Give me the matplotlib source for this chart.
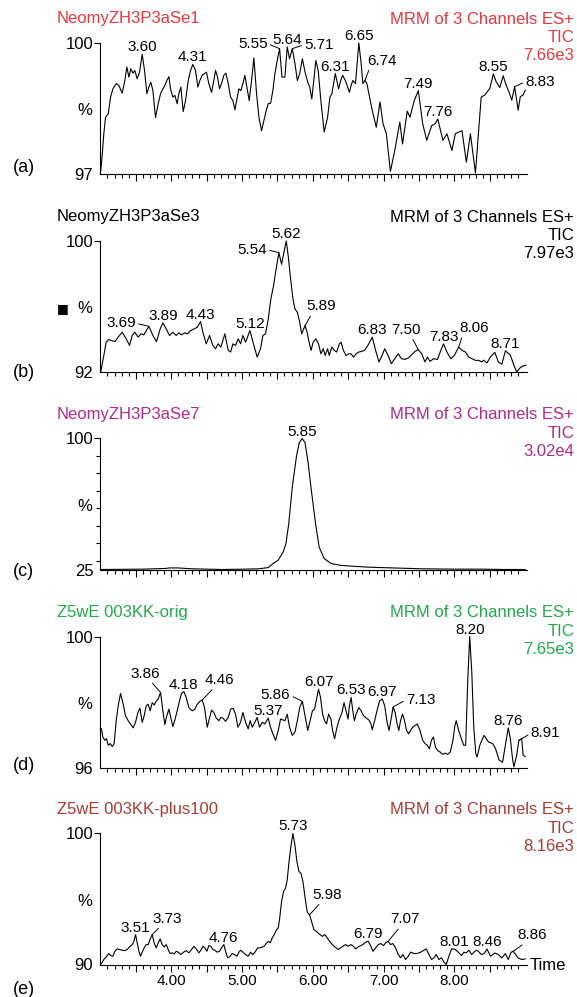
import numpy as np
import matplotlib.pyplot as plt
from matplotlib.ticker import FixedLocator, MultipleLocator, FuncFormatter

plt.rcParams['font.family'] = ['Liberation Sans', 'DejaVu Sans']

# ---- traces: (time min, intensity %) ----
a_trace = [
    (3.000, 97.00), (3.016, 97.23), (3.049, 97.92), (3.073, 98.30), (3.111, 98.38),
    (3.144, 98.76), (3.177, 98.95), (3.224, 99.07), (3.261, 99.03), (3.308, 98.85),
    (3.346, 99.14), (3.374, 99.45), (3.403, 99.22), (3.431, 99.41), (3.459, 99.31),
    (3.487, 99.37), (3.520, 99.18), (3.553, 99.33), (3.591, 99.74), (3.624, 99.37),
    (3.657, 98.84), (3.685, 98.99), (3.713, 99.10), (3.742, 98.91), (3.779, 98.29),
    (3.817, 98.61), (3.850, 98.84), (3.883, 98.95), (3.911, 99.03), (3.939, 99.14),
    (3.968, 99.23), (3.991, 98.95), (4.024, 98.76), (4.052, 98.80), (4.085, 98.61),
    (4.109, 98.84), (4.137, 98.99), (4.170, 98.43), (4.203, 98.68), (4.241, 99.14),
    (4.274, 99.37), (4.306, 99.51), (4.344, 99.37), (4.377, 98.99), (4.405, 99.14),
    (4.438, 99.26), (4.471, 99.30), (4.499, 99.33), (4.532, 99.07), (4.570, 98.87),
    (4.598, 99.10), (4.627, 99.37), (4.655, 99.22), (4.683, 98.95), (4.716, 99.10),
    (4.744, 99.26), (4.773, 99.31), (4.806, 99.07), (4.839, 98.76), (4.872, 98.68),
    (4.900, 98.47), (4.933, 98.76), (4.956, 98.95), (4.984, 98.91), (5.013, 99.07),
    (5.041, 99.26), (5.069, 98.99), (5.102, 98.68), (5.135, 99.14), (5.168, 99.66),
    (5.206, 98.84), (5.239, 98.30), (5.276, 97.99), (5.309, 98.22), (5.342, 98.45),
    (5.371, 98.61), (5.404, 98.62), (5.436, 98.91), (5.465, 99.30), (5.498, 99.60),
    (5.531, 99.87), (5.565, 99.22), (5.606, 99.22), (5.639, 99.91), (5.672, 99.64),
    (5.710, 99.87), (5.748, 99.53), (5.782, 99.14), (5.815, 99.30), (5.853, 99.64),
    (5.891, 99.33), (5.929, 99.10), (5.957, 98.99), (5.986, 98.72), (6.014, 99.14),
    (6.043, 99.60), (6.076, 99.37), (6.114, 98.68), (6.161, 97.96), (6.209, 98.30),
    (6.242, 98.76), (6.270, 98.84), (6.318, 99.30), (6.365, 98.95), (6.394, 99.14),
    (6.422, 99.26), (6.460, 99.14), (6.493, 98.99), (6.517, 98.87), (6.541, 99.03),
    (6.565, 99.14), (6.603, 99.07), (6.650, 100.0), (6.683, 99.53), (6.707, 99.07),
    (6.736, 99.14), (6.764, 99.07), (6.792, 98.84), (6.840, 98.45), (6.897, 98.07),
    (6.949, 98.65), (6.992, 98.15), (7.039, 97.92), (7.096, 97.06), (7.158, 97.54),
    (7.229, 98.19), (7.267, 97.69), (7.334, 98.44), (7.372, 98.30), (7.433, 98.68),
    (7.490, 98.91), (7.552, 98.15), (7.609, 97.77), (7.680, 98.11), (7.728, 98.15),
    (7.765, 98.26), (7.837, 97.77), (7.894, 97.92), (7.965, 97.54), (8.012, 97.92),
    (8.060, 97.96), (8.107, 97.99), (8.169, 97.27), (8.226, 97.92), (8.297, 97.02),
    (8.378, 98.76), (8.430, 98.81), (8.500, 98.96), (8.550, 99.29), (8.590, 99.11),
    (8.640, 98.98), (8.690, 99.25), (8.720, 99.08), (8.770, 98.88), (8.810, 98.69),
    (8.850, 99.00), (8.900, 98.46), (8.930, 98.77), (8.970, 98.81), (9.000, 98.92),
]

b_trace = [
    (3.005, 92.00), (3.049, 93.01), (3.082, 93.82), (3.120, 93.98), (3.158, 93.92),
    (3.205, 93.86), (3.252, 94.13), (3.308, 94.43), (3.365, 94.03), (3.412, 93.62),
    (3.450, 94.23), (3.487, 94.43), (3.534, 94.13), (3.572, 94.33), (3.614, 94.27),
    (3.685, 94.79), (3.742, 94.23), (3.793, 93.86), (3.845, 94.63), (3.883, 95.00),
    (3.930, 94.63), (3.977, 94.23), (4.024, 94.43), (4.071, 94.23), (4.109, 94.39),
    (4.146, 94.27), (4.193, 94.39), (4.231, 94.33), (4.274, 94.53), (4.321, 94.63),
    (4.368, 94.73), (4.415, 95.08), (4.448, 94.43), (4.495, 93.72), (4.542, 94.23),
    (4.589, 93.62), (4.627, 93.42), (4.664, 93.72), (4.702, 93.52), (4.758, 94.33),
    (4.806, 93.32), (4.839, 93.22), (4.872, 93.72), (4.909, 93.62), (4.947, 94.03),
    (4.980, 93.72), (5.013, 94.23), (5.051, 93.82), (5.112, 94.53), (5.168, 93.62),
    (5.215, 92.91), (5.262, 93.42), (5.295, 94.23), (5.333, 94.33), (5.371, 95.24),
    (5.408, 96.46), (5.446, 97.27), (5.474, 98.08), (5.521, 99.29), (5.559, 98.58),
    (5.592, 99.29), (5.625, 100.0), (5.653, 99.09), (5.687, 97.67), (5.720, 96.46),
    (5.748, 95.85), (5.782, 95.65), (5.815, 95.04), (5.843, 94.33), (5.872, 94.63),
    (5.891, 94.84), (5.919, 94.43), (5.948, 93.82), (5.976, 93.32), (6.005, 93.82),
    (6.043, 94.03), (6.081, 93.72), (6.114, 93.11), (6.147, 93.42), (6.175, 93.01),
    (6.209, 93.42), (6.232, 93.01), (6.270, 93.52), (6.304, 93.32), (6.337, 93.22),
    (6.375, 93.72), (6.399, 93.82), (6.432, 93.32), (6.470, 93.01), (6.508, 93.11),
    (6.541, 93.11), (6.574, 92.91), (6.612, 93.11), (6.650, 93.22), (6.688, 93.26),
    (6.731, 93.32), (6.778, 93.62), (6.840, 94.13), (6.887, 93.32), (6.935, 92.61),
    (6.978, 93.01), (7.016, 93.42), (7.063, 93.01), (7.110, 92.51), (7.158, 92.81),
    (7.205, 93.11), (7.253, 92.81), (7.300, 92.77), (7.348, 92.85), (7.395, 93.05),
    (7.443, 93.26), (7.490, 93.36), (7.538, 93.11), (7.585, 92.61), (7.618, 92.91),
    (7.656, 92.65), (7.704, 92.81), (7.761, 92.77), (7.808, 93.32), (7.846, 93.72),
    (7.894, 93.22), (7.950, 92.81), (7.998, 93.01), (8.060, 93.52), (8.107, 93.32),
    (8.155, 93.22), (8.202, 92.91), (8.250, 92.81), (8.297, 92.71), (8.345, 92.71),
    (8.387, 92.61), (8.410, 92.72), (8.460, 92.56), (8.510, 92.93), (8.570, 93.20),
    (8.620, 92.62), (8.670, 92.47), (8.720, 93.30), (8.790, 93.03), (8.840, 92.41),
    (8.880, 92.00), (8.930, 92.27), (8.970, 92.37), (9.010, 92.41),
]

c_trace = [
    (3.00, 25.0), (3.60, 25.2), (3.92, 25.6), (3.98, 25.9), (4.09, 25.9),
    (4.30, 25.4), (4.72, 25.0), (5.03, 25.2), (5.24, 25.4), (5.37, 26.1),
    (5.45, 28.7), (5.51, 30.3), (5.58, 34.9), (5.62, 39.7), (5.66, 51.1),
    (5.71, 72.0), (5.77, 90.0), (5.81, 97.7), (5.85, 100.0), (5.89, 97.7),
    (5.93, 87.3), (5.98, 70.2), (6.04, 51.1), (6.09, 37.8), (6.16, 31.3),
    (6.26, 28.4), (6.39, 27.4), (6.55, 26.9), (6.81, 26.3), (7.13, 25.9),
    (7.54, 25.4), (8.02, 25.2), (8.38, 25.2), (8.70, 25.0), (9.00, 25.0),
]

d_trace = [
    (3.000, 97.18), (3.016, 97.18), (3.035, 96.93), (3.064, 96.83), (3.087, 96.88),
    (3.111, 96.68), (3.139, 96.73), (3.167, 96.64), (3.195, 96.73), (3.224, 97.43),
    (3.252, 97.88), (3.285, 98.26), (3.318, 97.98), (3.355, 97.58), (3.393, 97.43),
    (3.426, 97.33), (3.464, 97.21), (3.497, 97.38), (3.530, 97.68), (3.558, 97.81),
    (3.591, 97.38), (3.619, 97.58), (3.647, 97.88), (3.676, 97.93), (3.704, 97.73),
    (3.732, 97.98), (3.760, 97.91), (3.793, 98.04), (3.817, 98.09), (3.850, 98.29),
    (3.883, 97.73), (3.911, 97.31), (3.939, 97.58), (3.968, 97.78), (3.996, 97.51),
    (4.024, 97.25), (4.052, 97.45), (4.085, 97.73), (4.118, 98.04), (4.146, 98.26),
    (4.179, 98.32), (4.212, 98.14), (4.250, 97.83), (4.297, 97.73), (4.335, 97.78),
    (4.368, 97.93), (4.405, 98.02), (4.438, 98.06), (4.471, 97.83), (4.509, 97.23),
    (4.542, 97.51), (4.570, 97.75), (4.603, 97.68), (4.636, 97.51), (4.674, 97.43),
    (4.702, 97.53), (4.730, 97.51), (4.768, 97.41), (4.806, 97.53), (4.839, 97.78),
    (4.876, 97.81), (4.909, 97.63), (4.942, 97.23), (4.980, 97.38), (5.013, 97.68),
    (5.051, 97.38), (5.088, 97.18), (5.116, 97.43), (5.145, 97.23), (5.182, 97.38),
    (5.215, 97.53), (5.248, 97.23), (5.286, 97.38), (5.323, 97.33), (5.370, 97.51),
    (5.403, 97.23), (5.436, 97.03), (5.474, 96.83), (5.512, 97.13), (5.545, 97.48),
    (5.606, 97.43), (5.639, 97.63), (5.672, 97.23), (5.710, 96.98), (5.748, 97.08),
    (5.782, 97.43), (5.815, 97.83), (5.853, 98.02), (5.891, 97.58), (5.929, 97.13),
    (5.962, 97.43), (5.995, 97.73), (6.024, 97.78), (6.057, 98.14), (6.081, 98.39),
    (6.109, 98.14), (6.138, 97.63), (6.166, 97.43), (6.194, 97.33), (6.223, 97.63),
    (6.256, 97.48), (6.280, 97.13), (6.308, 96.88), (6.342, 97.23), (6.375, 97.48),
    (6.413, 97.68), (6.441, 97.98), (6.470, 97.73), (6.498, 97.48), (6.517, 97.88),
    (6.541, 98.14), (6.565, 97.73), (6.588, 97.43), (6.612, 97.63), (6.650, 97.83),
    (6.683, 97.73), (6.717, 97.58), (6.755, 97.51), (6.792, 97.45), (6.821, 97.33),
    (6.840, 97.15), (6.873, 97.43), (6.906, 97.73), (6.944, 98.04), (6.982, 98.09),
    (7.016, 97.88), (7.049, 97.38), (7.077, 97.13), (7.110, 97.53), (7.134, 97.85),
    (7.163, 97.68), (7.191, 97.33), (7.215, 97.13), (7.239, 97.43), (7.267, 97.63),
    (7.296, 97.43), (7.324, 97.13), (7.353, 97.03), (7.381, 97.13), (7.410, 97.23),
    (7.443, 97.28), (7.476, 97.33), (7.514, 97.13), (7.552, 96.83), (7.585, 96.73),
    (7.618, 96.68), (7.647, 96.57), (7.675, 96.83), (7.704, 96.93), (7.732, 96.62),
    (7.761, 96.52), (7.799, 96.47), (7.837, 96.40), (7.870, 96.44), (7.903, 96.40),
    (7.941, 96.47), (7.979, 96.83), (8.007, 97.28), (8.026, 97.43), (8.060, 97.13),
    (8.098, 96.88), (8.131, 96.68), (8.159, 96.68), (8.188, 98.64), (8.216, 100.0),
    (8.245, 98.93), (8.273, 97.23), (8.302, 96.42), (8.321, 96.32), (8.359, 96.68),
    (8.387, 96.83), (8.420, 96.98), (8.480, 96.78), (8.540, 96.73), (8.580, 96.58),
    (8.630, 96.23), (8.680, 96.16), (8.720, 96.68), (8.760, 97.21), (8.790, 96.88),
    (8.820, 96.28), (8.840, 96.02), (8.880, 96.38), (8.910, 96.83), (8.950, 96.88),
    (8.970, 96.38), (9.000, 96.33),
]

e_trace = [
    (3.000, 90.00), (3.016, 90.08), (3.049, 90.38), (3.082, 90.58), (3.120, 90.84),
    (3.148, 90.68), (3.177, 90.63), (3.205, 91.01), (3.238, 91.19), (3.271, 91.14),
    (3.308, 91.09), (3.346, 91.06), (3.379, 91.14), (3.412, 91.34), (3.450, 91.52),
    (3.473, 91.77), (3.497, 92.28), (3.520, 91.65), (3.544, 91.01), (3.567, 90.63),
    (3.591, 90.94), (3.619, 91.27), (3.647, 91.52), (3.676, 91.52), (3.704, 91.95),
    (3.732, 92.28), (3.760, 91.65), (3.789, 91.27), (3.817, 91.65), (3.845, 91.95),
    (3.873, 91.52), (3.902, 91.34), (3.930, 91.52), (3.958, 91.14), (3.986, 90.84),
    (4.015, 90.89), (4.043, 90.81), (4.071, 91.01), (4.099, 90.94), (4.137, 90.76),
    (4.175, 90.94), (4.212, 91.06), (4.250, 90.89), (4.288, 91.14), (4.321, 91.39),
    (4.354, 91.19), (4.391, 90.89), (4.420, 91.09), (4.448, 91.39), (4.476, 91.27),
    (4.504, 91.01), (4.532, 91.44), (4.561, 91.39), (4.589, 91.14), (4.617, 91.09),
    (4.650, 90.94), (4.683, 91.01), (4.711, 91.27), (4.744, 91.52), (4.768, 91.01),
    (4.796, 90.51), (4.824, 90.58), (4.862, 90.84), (4.895, 90.76), (4.928, 90.63),
    (4.956, 90.94), (4.984, 91.09), (5.013, 90.94), (5.051, 90.76), (5.088, 90.63),
    (5.121, 90.94), (5.154, 90.76), (5.192, 91.01), (5.220, 91.27), (5.257, 91.27),
    (5.286, 91.34), (5.314, 91.39), (5.342, 91.60), (5.371, 91.77), (5.399, 91.65),
    (5.427, 92.03), (5.455, 92.28), (5.483, 92.61), (5.512, 92.79), (5.530, 93.42),
    (5.559, 94.81), (5.587, 95.57), (5.615, 95.82), (5.639, 96.46), (5.662, 97.72),
    (5.690, 98.99), (5.719, 100.0), (5.748, 99.11), (5.776, 97.85), (5.805, 97.09),
    (5.833, 96.96), (5.861, 96.33), (5.889, 95.19), (5.922, 93.98), (5.955, 93.80),
    (5.983, 93.29), (6.016, 92.66), (6.049, 92.53), (6.087, 92.35), (6.134, 92.15),
    (6.171, 92.28), (6.204, 92.03), (6.237, 91.77), (6.275, 91.52), (6.312, 91.34),
    (6.359, 91.14), (6.392, 91.27), (6.425, 91.39), (6.463, 91.52), (6.500, 91.39),
    (6.538, 91.52), (6.576, 91.39), (6.604, 91.19), (6.641, 91.34), (6.675, 91.44),
    (6.708, 91.52), (6.745, 91.70), (6.783, 91.77), (6.816, 91.44), (6.849, 91.01),
    (6.887, 91.27), (6.924, 91.52), (6.962, 91.60), (6.999, 91.44), (7.028, 91.65),
    (7.065, 91.77), (7.098, 91.52), (7.131, 91.60), (7.169, 91.27), (7.207, 90.76),
    (7.240, 90.51), (7.273, 90.76), (7.310, 90.38), (7.348, 90.63), (7.381, 90.94),
    (7.428, 90.84), (7.475, 90.84), (7.522, 90.94), (7.569, 91.09), (7.602, 91.19),
    (7.640, 90.76), (7.678, 90.38), (7.711, 90.51), (7.744, 90.76), (7.781, 90.38),
    (7.819, 90.51), (7.852, 90.18), (7.885, 90.00), (7.922, 90.63), (7.960, 91.19),
    (7.993, 91.19), (8.026, 91.09), (8.064, 90.89), (8.101, 90.68), (8.134, 90.94),
    (8.167, 90.89), (8.205, 91.09), (8.243, 90.76), (8.276, 90.94), (8.309, 91.09),
    (8.337, 91.01), (8.380, 90.76), (8.420, 90.83), (8.460, 91.18), (8.510, 90.63),
    (8.570, 90.88), (8.620, 90.76), (8.670, 90.50), (8.720, 90.83), (8.760, 90.38),
    (8.800, 90.93), (8.830, 91.01), (8.900, 90.50), (8.950, 90.38), (9.000, 90.43),
]

# labelled peak retention times
a_peaks = [3.60, 4.31, 5.55, 5.64, 5.71, 6.31, 6.65, 6.74, 7.49, 7.76, 8.55, 8.83]
b_peaks = [3.69, 3.89, 4.43, 5.12, 5.54, 5.62, 5.89, 6.83, 7.50, 7.83, 8.06, 8.71]
c_peaks = [5.85]
d_peaks = [3.86, 4.18, 4.46, 5.37, 5.86, 6.07, 6.53, 6.97, 7.13, 8.20, 8.76, 8.91]
e_peaks = [3.51, 3.73, 4.76, 5.73, 5.98, 6.79, 7.07, 8.01, 8.46, 8.86]

y_bottoms = [97, 92, 25, 96, 90]
names = ['NeomyZH3P3aSe1', 'NeomyZH3P3aSe3', 'NeomyZH3P3aSe7',
         'Z5wE 003KK-orig', 'Z5wE 003KK-plus100']
scales = ['7.66e3', '7.97e3', '3.02e4', '7.65e3', '8.16e3']
letters = ['(a)', '(b)', '(c)', '(d)', '(e)']
x_labels = [4, 5, 6, 7, 8]

# ---- layout (pixels) ----
colors = ['#e8383d', 'black', '#b02a8a', '#23a84b', '#a83c32']
W, H = 577, 997
left_px, right_px = 100, 527
bottoms_px = [174, 372, 569.5, 767.5, 964.5]
height_px = 131
letter_y = [168, 372, 572, 765, 989]

# leader-line labels: (dx, dy, ha, va, relpos) in pixels from the peak
leaders = {
    (0, '5.55'): (-12, 5, 'right', 'center', (1, 0.5)),
    (0, '5.71'): (12, 4, 'left', 'center', (0, 0.5)),
    (0, '6.74'): (2, 13, 'left', 'bottom', (0.1, 0)),
    (0, '8.83'): (11, 5, 'left', 'center', (0, 0.5)),
    (1, '3.69'): (-13, 3, 'right', 'center', (1, 0.5)),
    (1, '5.54'): (-12, 3, 'right', 'center', (1, 0.5)),
    (1, '5.89'): (1, 12, 'left', 'bottom', (0.2, 0)),
    (1, '7.50'): (2, 13, 'right', 'bottom', (0.7, 0)),
    (1, '8.06'): (1, 12, 'left', 'bottom', (0.1, 0)),
    (3, '3.86'): (0, 12, 'right', 'bottom', (0.65, 0)),
    (3, '4.46'): (2, 13, 'left', 'bottom', (0.35, 0)),
    (3, '5.86'): (-12, 6, 'right', 'center', (1, 0.5)),
    (3, '7.13'): (13, 7, 'left', 'center', (0, 0.5)),
    (3, '8.91'): (12, 7, 'left', 'center', (0, 0.5)),
    (4, '3.73'): (0, 9, 'left', 'bottom', (0.3, 0)),
    (4, '5.98'): (3, 13, 'left', 'bottom', (0.3, 0)),
    (4, '7.07'): (2, 15, 'left', 'bottom', (0.35, 0)),
    (4, '8.86'): (4, 9, 'left', 'bottom', (0.3, 0)),
}

traces = [a_trace, b_trace, c_trace, d_trace, e_trace]
peaks = [a_peaks, b_peaks, c_peaks, d_peaks, e_peaks]

fig = plt.figure(figsize=(W / 100, H / 100), dpi=100)

minor_x = [x for x in np.round(np.arange(3.1, 8.95, 0.1), 2)
           if abs(x * 2 - round(x * 2)) > 1e-6]

for i in range(5):
    bot = bottoms_px[i]
    top = bot - height_px
    ax = fig.add_axes([left_px / W, 1 - bot / H,
                       (right_px - left_px) / W, height_px / H])
    t, v = np.array(traces[i]).T
    ax.plot(t, v, color='black', lw=0.8, clip_on=False)

    ax.set_xlim(2.995, 9.025)
    ax.set_ylim(y_bottoms[i], 100)
    for s in ['top', 'right']:
        ax.spines[s].set_visible(False)
    for s in ['left', 'bottom']:
        ax.spines[s].set_linewidth(0.8)

    ax.xaxis.set_major_locator(FixedLocator(np.arange(3.5, 8.6, 0.5)))
    ax.xaxis.set_minor_locator(FixedLocator(minor_x))
    ax.tick_params(axis='x', which='major', direction='out', length=5, width=0.8,
                   labelsize=11, pad=2)
    ax.tick_params(axis='x', which='minor', direction='out', length=3, width=0.8)
    if i == 4:
        ax.xaxis.set_major_formatter(FuncFormatter(
            lambda x, pos: f'{x:.2f}' if round(x, 3) in x_labels else ''))
    else:
        ax.tick_params(axis='x', labelbottom=False)

    ax.set_yticks([y_bottoms[i], 100])
    ax.set_yticklabels([str(y_bottoms[i]), '100'])
    ax.yaxis.set_minor_locator(MultipleLocator(10))
    ax.tick_params(axis='y', which='major', length=4.3, width=0.8, pad=0.5,
                   labelsize=12)
    ax.tick_params(axis='y', which='minor', length=3, width=0.8)
    ax.yaxis.get_major_ticks()[0].tick1line.set_visible(False)

    for pk in peaks[i]:
        m = np.abs(t - pk) <= 0.03
        idx = np.where(m)[0][np.argmax(v[m])]
        txt = f'{pk:.2f}'
        if (i, txt) in leaders:
            dx, dy, ha, va, rp = leaders[(i, txt)]
            ax.annotate(txt, xy=(t[idx], v[idx]), xytext=(dx, dy),
                        textcoords='offset pixels', ha=ha, va=va, fontsize=11,
                        arrowprops=dict(arrowstyle='-', lw=0.7, color='black',
                                        shrinkA=0, shrinkB=0, relpos=rp))
        else:
            ax.annotate(txt, xy=(t[idx], v[idx]), xytext=(0, 0),
                        textcoords='offset pixels', ha='center', va='bottom',
                        fontsize=11)

    col = colors[i]
    fig.text(57 / W, 1 - (top - 24) / H, names[i], color=col, fontsize=12,
             ha='left', va='center')
    fig.text(574 / W, 1 - (top - 24) / H, 'MRM of 3 Channels ES+', color=col,
             fontsize=12, ha='right', va='center')
    fig.text(574 / W, 1 - (top - 5) / H, 'TIC', color=col, fontsize=12,
             ha='right', va='center')
    fig.text(574 / W, 1 - (top + 13) / H, scales[i], color=col, fontsize=12,
             ha='right', va='center')
    fig.text(85 / W, 1 - (top + height_px / 2 + 2) / H, '%', fontsize=12,
             ha='center', va='center')
    fig.text(13 / W, 1 - letter_y[i] / H, letters[i], fontsize=13,
             ha='left', va='center')

fig.text(62.5 / W, 1 - 309 / H, '\u25a0', fontsize=9, family='DejaVu Sans',
         ha='center', va='center')
fig.text(530 / W, 1 - 965 / H, 'Time', fontsize=12, ha='left', va='center')

fig.savefig('out.png', dpi=100)
